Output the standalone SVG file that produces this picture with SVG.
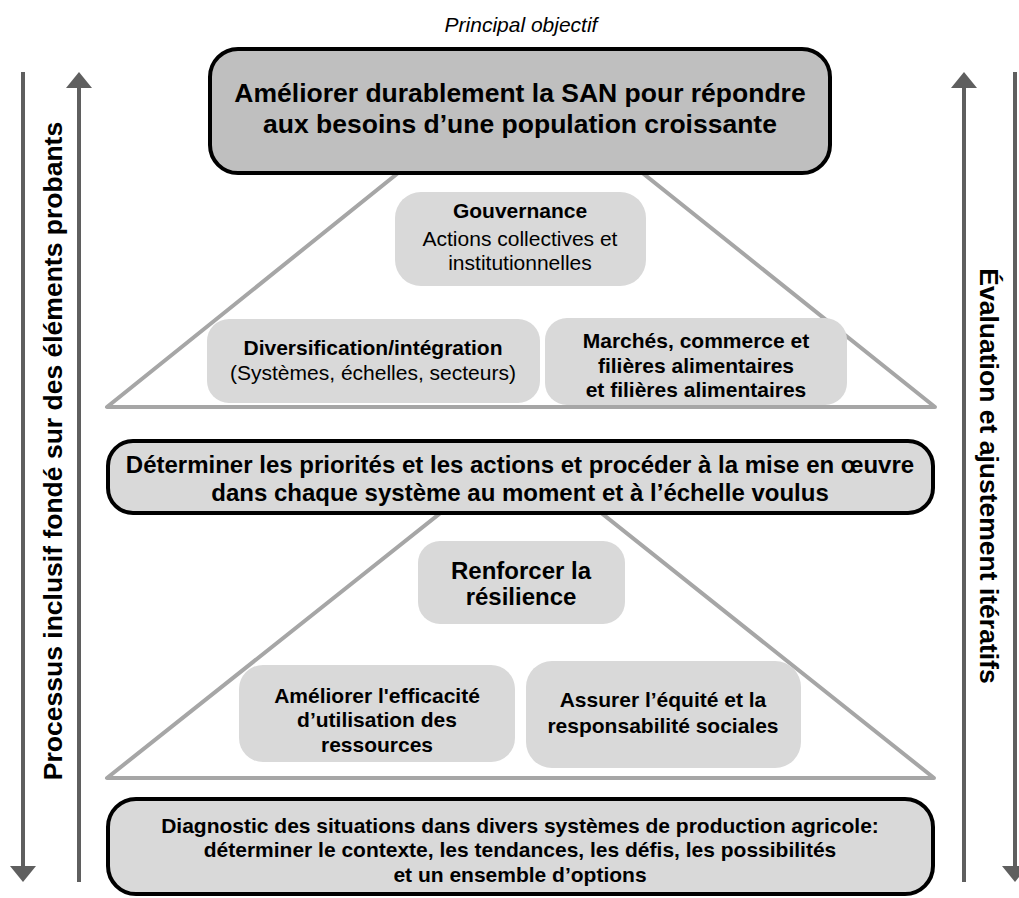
<svg xmlns="http://www.w3.org/2000/svg" width="1019" height="898" viewBox="0 0 1019 898">
<defs>
<style>
text{font-family:"Liberation Sans",Arial,sans-serif;fill:#000;text-anchor:middle}
.b{font-weight:bold}
.t21{font-size:21px}
.t24{font-size:24px}
.t26{font-size:26.5px}
.main{stroke:#000;stroke-width:4}
.dark{fill:#bfbfbf}
.light{fill:#d9d9d9}
.tri{fill:#fff;stroke:#a6a6a6;stroke-width:4;stroke-linejoin:round}
.arr{stroke:#5f5f5f;stroke-width:4;fill:none}
</style>
<marker id="ah" viewBox="0 0 16 26" refX="4" refY="13" markerWidth="16" markerHeight="26" markerUnits="userSpaceOnUse" orient="auto">
<path d="M0,0 L16,13 L0,26 z" fill="#5f5f5f"/>
</marker>
</defs>
<rect width="1019" height="898" fill="#fff"/>

<g id="frames">
<polygon class="tri" points="520,75 107,407 935,407"/>
<polygon class="tri" points="521,449 107,778 934,778"/>
</g>

<g id="connectors">
<line class="arr" x1="23" y1="72" x2="23" y2="870" marker-end="url(#ah)"/>
<line class="arr" x1="79" y1="882" x2="79" y2="84" marker-end="url(#ah)"/>
<line class="arr" x1="964" y1="882" x2="964" y2="84" marker-end="url(#ah)"/>
<line class="arr" x1="1015" y1="72" x2="1015" y2="870" marker-end="url(#ah)"/>
</g>

<g id="label-principal">
<text x="521" y="32" font-size="21" font-style="italic">Principal objectif</text>
</g>

<g id="label-left">
<text class="b t26" transform="translate(62,451) rotate(-90)">Processus inclusif fondé sur des éléments probants</text>
</g>

<g id="label-right">
<text class="b t26" transform="translate(980,476) rotate(90)">Évaluation et ajustement itératifs</text>
</g>

<g id="goal">
<rect class="main dark" x="210" y="49" width="620" height="124" rx="28"/>
<text class="b t26" x="520" y="102">Améliorer durablement la SAN pour répondre</text>
<text class="b t26" x="520" y="133">aux besoins d’une population croissante</text>
</g>

<g id="gouvernance">
<rect class="light" x="395" y="192" width="251" height="94" rx="26"/>
<text class="b t21" x="520" y="218">Gouvernance</text>
<text class="t21" x="520" y="246">Actions collectives et</text>
<text class="t21" x="520" y="270">institutionnelles</text>
</g>

<g id="diversification">
<rect class="light" x="207" y="319" width="333" height="84" rx="22"/>
<text class="b t21" x="373" y="355">Diversification/intégration</text>
<text class="t21" x="373" y="380">(Systèmes, échelles, secteurs)</text>
</g>

<g id="marches">
<rect class="light" x="545" y="318" width="302" height="87" rx="22"/>
<text class="b t21" x="696" y="348">Marchés, commerce et</text>
<text class="b t21" x="696" y="373">filières alimentaires</text>
<text class="b t21" x="696" y="397">et filières alimentaires</text>
</g>

<g id="priorites">
<rect class="main light" x="108" y="441" width="825" height="72" rx="25"/>
<text class="b t24" x="520" y="473">Déterminer les priorités et les actions et procéder à la mise en œuvre</text>
<text class="b t24" x="520" y="501">dans chaque système au moment et à l’échelle voulus</text>
</g>

<g id="resilience">
<rect class="light" x="418" y="541" width="207" height="83" rx="22"/>
<text class="b t24" x="521" y="579">Renforcer la</text>
<text class="b t24" x="521" y="605">résilience</text>
</g>

<g id="efficacite">
<rect class="light" x="239" y="665" width="276" height="97" rx="24"/>
<text class="b t21" x="377" y="703">Améliorer l'efficacité</text>
<text class="b t21" x="377" y="727">d’utilisation des</text>
<text class="b t21" x="377" y="752">ressources</text>
</g>

<g id="equite">
<rect class="light" x="526" y="661" width="275" height="107" rx="26"/>
<text class="b t21" x="663" y="707">Assurer l’équité et la</text>
<text class="b t21" x="663" y="733">responsabilité sociales</text>
</g>

<g id="diagnostic">
<rect class="main light" x="108" y="799" width="825" height="95" rx="28"/>
<text class="b t21" x="520" y="833">Diagnostic des situations dans divers systèmes de production agricole:</text>
<text class="b t21" x="520" y="857">déterminer le contexte, les tendances, les défis, les possibilités</text>
<text class="b t21" x="520" y="882">et un ensemble d’options</text>
</g>
</svg>
